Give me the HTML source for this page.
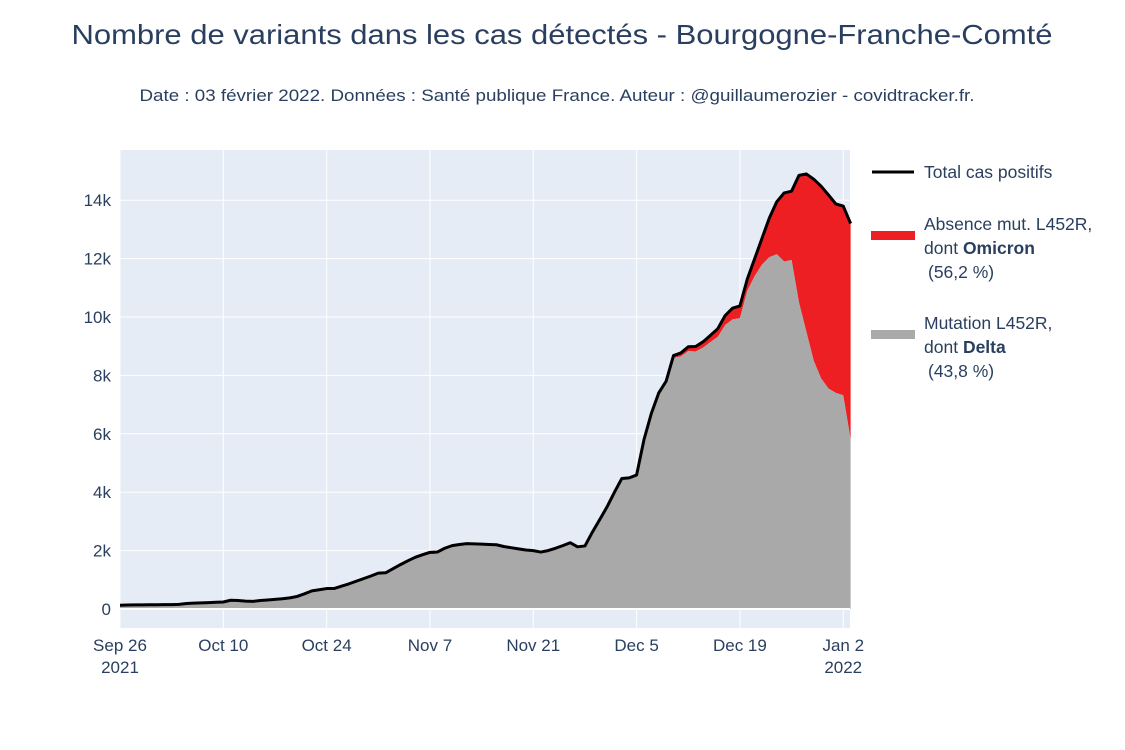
<!DOCTYPE html>
<html><head><meta charset="utf-8">
<style>
html,body{margin:0;padding:0;background:#fff;}
svg{display:block;font-family:"Liberation Sans","DejaVu Sans",sans-serif;}
</style></head>
<body>
<svg id="chart" width="1125" height="750" viewBox="0 0 1125 750" xmlns="http://www.w3.org/2000/svg">
  <text x="562" y="44" text-anchor="middle" font-size="28" textLength="981" lengthAdjust="spacingAndGlyphs" fill="#2a3f5f">Nombre de variants dans les cas détectés - Bourgogne-Franche-Comté</text>
  <text x="557" y="101" text-anchor="middle" font-size="17" textLength="835" lengthAdjust="spacingAndGlyphs" fill="#2a3f5f">Date : 03 février 2022. Données : Santé publique France. Auteur : @guillaumerozier - covidtracker.fr.</text>
  <rect x="120" y="150" width="730" height="478" fill="#e5ecf6"/>
  <g id="grid"></g>
  <g id="areas"></g>
  <g id="axes"></g>
  <g>
    <line x1="872" y1="172" x2="914" y2="172" stroke="#000" stroke-width="3"/>
    <text x="924" y="178" font-size="17.5" fill="#2a3f5f">Total cas positifs</text>
    <rect x="871" y="231" width="44" height="9" fill="#ee1f22"/>
    <text font-size="17.5" fill="#2a3f5f">
      <tspan x="924" y="230">Absence mut. L452R,</tspan>
      <tspan x="924" y="254">dont <tspan font-weight="bold">Omicron</tspan></tspan>
      <tspan x="928" y="278">(56,2 %)</tspan>
    </text>
    <rect x="871" y="330" width="44" height="9" fill="#aaaaaa"/>
    <text font-size="17.5" fill="#2a3f5f">
      <tspan x="924" y="329">Mutation L452R,</tspan>
      <tspan x="924" y="353">dont <tspan font-weight="bold">Delta</tspan></tspan>
      <tspan x="928" y="377">(43,8 %)</tspan>
    </text>
  </g>
</svg>
<script>
const totalCases = [130,135,140,140,145, 145,150,150,160,190,200,210,220,230,240,300,290,270,260,290,310,330,350,380,430,520,620,660,700,700,780,860,950,1040,1130,1230,
1240,1380,1520,1650,1770,1860,1940,1950,2080,2170,2210,2240,2230,2220,2210,2200,2140,2100,2060,2020,2000,1950,2000,2080,2170,2270,2130,2160,2630,3060,
3500,4000,4470,4490,4590,5800,6700,7400,7800,8680,8770,8980,8990,9150,9370,9600,10050,10300,10380,11300,12000,12700,13400,13950,14250,14310,14850,14900,14720,14480,14180,
13870,13800,13200];
const omicronCases = [0,0,0,0,0, 0,0,0,0,0,0,0,0,0,0,0,0,0,0,0,0,0,0,0,0,0,0,0,0,0,0,0,0,0,0,0,
0,0,30,40,50,60,60,60,50,50,40,40,40,40,40,40,40,40,40,30,0,0,0,0,0,0,0,0,0,0,
0,0,0,0,0,0,0,0,0,80,120,150,170,200,230,280,330,380,420,400,600,900,1350,1800,2350,2360,4350,5400,6220,6580,6630,
6470,6480,7400];
const yTicks = [0,2000,4000,6000,8000,10000,12000,14000];
const yTickLabels = ["0","2k","4k","6k","8k","10k","12k","14k"];
const xTickDays = [0,14,28,42,56,70,84,98];
const xTickLabels = [["Sep 26","2021"],["Oct 10"],["Oct 24"],["Nov 7"],["Nov 21"],["Dec 5"],["Dec 19"],["Jan 2","2022"]];

const NS = "http://www.w3.org/2000/svg";
const X0 = 120, PX_PER_DAY = 7.38;
const Y0 = 609, PX_PER_UNIT = 58.4/2000;
function xs(d){ return X0 + d*PX_PER_DAY; }
function ys(v){ return Y0 - v*PX_PER_UNIT; }
function mk(tag, attrs, parent){ const e=document.createElementNS(NS,tag); for(const k in attrs) e.setAttribute(k,attrs[k]); parent.appendChild(e); return e; }

const grid = document.getElementById('grid');
const axes = document.getElementById('axes');
yTicks.forEach((v,i)=>{
  if(v!==0){
    const l = mk('line',{x1:120,x2:850,y1:ys(v),y2:ys(v),stroke:'#fff','stroke-width':1},grid);
    
    
  }
  const t = mk('text',{x:111,y:ys(v)+6,'text-anchor':'end','font-size':17,fill:'#2a3f5f'},axes);
  t.textContent = yTickLabels[i];
  
  
});
xTickDays.forEach((d,i)=>{
  const l = mk('line',{x1:xs(d),x2:xs(d),y1:150,y2:628,stroke:'#fff','stroke-width':1},grid);
  
  
  xTickLabels[i].forEach((s,j)=>{
    const t = mk('text',{x:xs(d),y:651+j*22,'text-anchor':'middle','font-size':17,fill:'#2a3f5f'},axes);
    t.textContent = s;
    
    
  });
});

const areas = document.getElementById('areas');
const n = totalCases.length;
const delta = totalCases.map((t,i)=>t-omicronCases[i]);
let redPts = totalCases.map((t,i)=>xs(i)+','+ys(t));
let deltaBack = delta.map((v,i)=>xs(i)+','+ys(v)).reverse();
const red = mk('polygon',{points:redPts.concat(deltaBack).join(' '),fill:'#ee1f22'},areas);


let grayPts = delta.map((v,i)=>xs(i)+','+ys(v));
grayPts.push(xs(n-1)+','+ys(0)); grayPts.push(xs(0)+','+ys(0));
const gray = mk('polygon',{points:grayPts.join(' '),fill:'#a9a9a9'},areas);


const zl = mk('line',{x1:120,x2:850,y1:ys(0),y2:ys(0),stroke:'#fff','stroke-width':2},areas);


const tl = mk('polyline',{points:totalCases.map((t,i)=>xs(i)+','+ys(t)).join(' '),fill:'none',stroke:'#000','stroke-width':3,'stroke-linejoin':'round'},areas);


</script>
</body></html>
